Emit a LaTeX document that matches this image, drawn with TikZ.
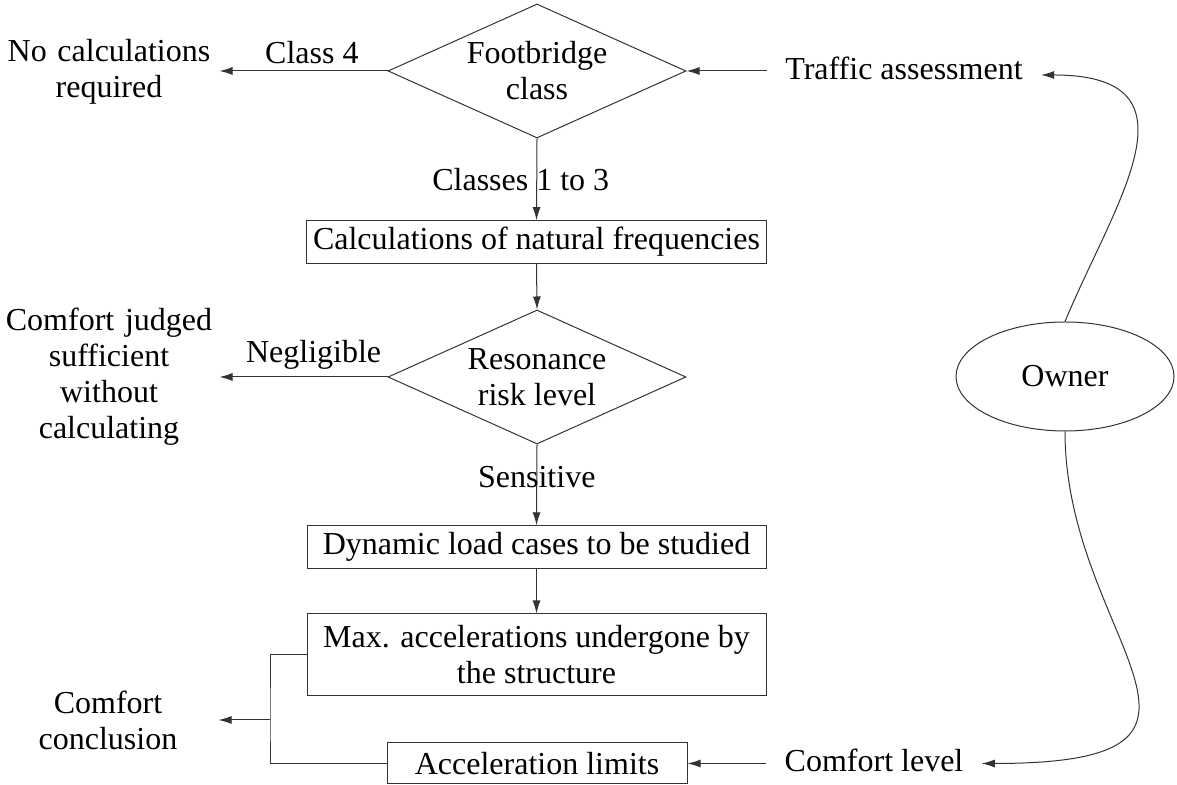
\documentclass[tikz,border=0pt]{standalone}
\usepackage{fontspec}
\setmainfont{Liberation Serif}
\usetikzlibrary{shapes.geometric, arrows.meta}

\tikzset{
    decision/.style = {diamond, draw = black!80, aspect = 2.2, minimum width = 149pt, minimum height = 67pt, inner sep = 0pt, align = center},
    process/.style  = {rectangle, draw = black!80, minimum width = 229.5pt, minimum height = 20pt, align = center},
    outcome/.style  = {text width = 110pt, align = center, inner sep = 0pt},
    actor/.style    = {ellipse, draw = black!80, minimum width = 109pt, minimum height = 54.5pt},
    input/.style    = {inner xsep = 9pt},
    link/.style     = {draw = black!80}
}

\begin{document}
\begin{tikzpicture}[x = 5pt, y = 5pt, line width = 0.5pt,
                    every node/.style = {font = \fontsize{16}{18}\selectfont},
                    >={Latex[length = 6.5pt, width = 4pt]}]
    \useasboundingbox (0, 0) rectangle (117.7, 78.5);

    \node[decision] (fbclass)   at (53.7, 71.4)  {Footbridge\\class};
    \node[outcome]  (nocalc)    at (10.9, 71.3)  {No calculations\\required};
    \node[input]    (traffic)   at (90.4, 71.7)  {Traffic assessment};
    \node[process]  (calc)      at (53.65, 54.3) {Calculations of natural frequencies};
    \node[decision] (resonance) at (53.7, 40.8)  {Resonance\\risk level};
    \node[outcome]  (judged)    at (10.9, 40.8)  {Comfort judged\\sufficient\\without\\calculating};
    \node[process]  (dynamic)   at (53.65, 23.8) {Dynamic load cases to be studied};
    \node[process, minimum height = 41pt] (maxacc) at (53.65, 13.0) {Max. accelerations undergone by\\the structure};
    \node[process, minimum width = 150pt, minimum height = 20.5pt] (accel) at (53.7, 2.15) {Acceleration limits};
    \node[outcome]  (concl)     at (10.8, 6.5)   {Comfort\\conclusion};
    \node[input]    (comfort)   at (87.4, 2.45)  {Comfort level};
    \node[actor]    (owner)     at (106.5, 40.85) {Owner};
    \coordinate (jn) at (27.0, 6.5);

    \draw[link, ->] (fbclass.west) -- node[above, pos = .45] {Class 4} (fbclass.west -| nocalc.east);
    \draw[link, ->] (traffic.west |- fbclass.east) -- (fbclass.east);
    \draw[link, ->] (fbclass.south) -- node[pos = .5, xshift = -8pt] {Classes 1 to 3} (calc.north);
    \draw[link, ->] (calc.south) -- (resonance.north);
    \draw[link, ->] (resonance.west) -- node[above, pos = .44] {Negligible} (resonance.west -| judged.east);
    \draw[link, ->] (resonance.south) -- node[pos = .4] {Sensitive} (dynamic.north);
    \draw[link, ->] (dynamic.south) -- (maxacc.north);
    \draw[link] (maxacc.west) -| (jn) |- (accel.west);
    \draw[link, ->] (jn) -- (jn -| concl.east);
    \draw[link, ->] (comfort.west |- accel.east) -- (accel.east);

    \draw[link, ->] (owner.north) .. controls +(5, 12) and +(16.5, 0) .. ([yshift = -3.5pt]traffic.east);
    \draw[link, ->] (owner.south) .. controls +(0, -20.9) and +(29, 0) .. (comfort.east |- accel.east);
\end{tikzpicture}
\end{document}
